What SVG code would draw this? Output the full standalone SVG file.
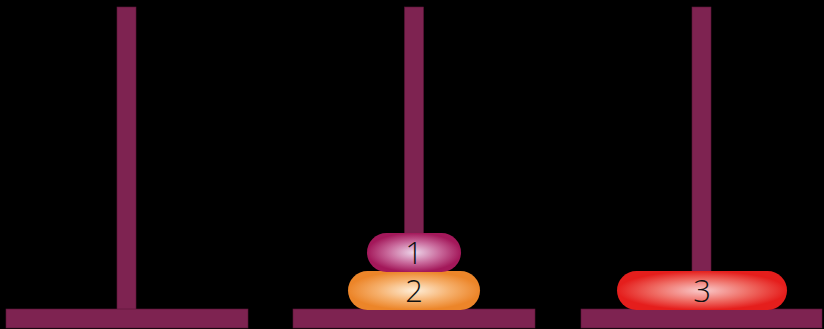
<svg xmlns="http://www.w3.org/2000/svg" width="824" height="329" viewBox="0 0 824 329">
<style>
.peg{fill:#7E2351;stroke:#5a1638;stroke-width:0.6}
.lbl{font-family:"Open Sans",Lato,"DejaVu Sans",sans-serif;font-weight:300;font-size:31px;fill:#111;text-anchor:middle}
</style>
<defs>
<radialGradient id="g1" cx="0.5" cy="0.5" r="0.5">
<stop offset="0" stop-color="#EDD6EA"/><stop offset="0.55" stop-color="#C96A9C"/><stop offset="1" stop-color="#A3185A"/>
</radialGradient>
<radialGradient id="g2" cx="0.5" cy="0.5" r="0.5">
<stop offset="0" stop-color="#FEEED8"/><stop offset="0.55" stop-color="#F6B16E"/><stop offset="1" stop-color="#EC8529"/>
</radialGradient>
<radialGradient id="g3" cx="0.5" cy="0.5" r="0.5">
<stop offset="0" stop-color="#F9CACA"/><stop offset="0.55" stop-color="#EF6E66"/><stop offset="1" stop-color="#E51E1C"/>
</radialGradient>
</defs>
<rect width="824" height="329" fill="#000"/>
<g id="peg1">
<rect class="peg" x="117" y="7" width="19" height="305"/>
<rect class="peg" x="6" y="309" width="242" height="19"/>
</g>
<g id="peg2">
<rect class="peg" x="404.5" y="7" width="19" height="305"/>
<rect class="peg" x="293" y="309" width="242" height="19"/>
</g>
<g id="peg3">
<rect class="peg" x="692" y="7" width="19" height="305"/>
<rect class="peg" x="581" y="309" width="241" height="19"/>
</g>
<g id="connectors"></g>
<g id="disk2">
<rect x="348" y="271" width="132" height="39" rx="19.5" fill="url(#g2)"/>
<text class="lbl" x="414" y="302">2</text>
</g>
<g id="disk1">
<rect x="367" y="233" width="94" height="39" rx="19.5" fill="url(#g1)"/>
<text class="lbl" x="414" y="264">1</text>
</g>
<g id="disk3">
<rect x="617" y="271" width="170" height="39" rx="19.5" fill="url(#g3)"/>
<text class="lbl" x="702" y="302">3</text>
</g>
</svg>
